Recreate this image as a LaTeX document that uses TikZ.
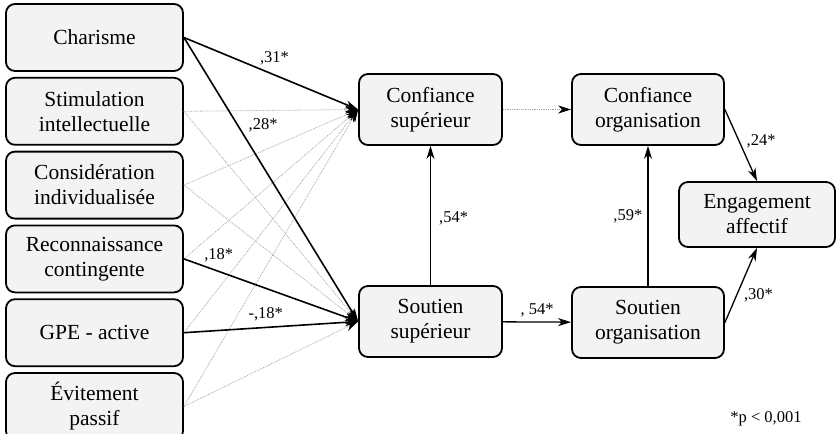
\documentclass[tikz,border=0pt]{standalone}
\usepackage{fontspec}
\setmainfont{Liberation Serif}
\usetikzlibrary{arrows.meta, positioning}
\definecolor{boxfill}{RGB}{242,243,242}

\begin{document}
\begin{tikzpicture}[x=1pt, y=-1pt]
	\tikzset{>={Stealth[length=13pt, width=8pt, inset=4pt]},
		every node/.style={font=\fontsize{21.5}{25}\selectfont},
		var/.style={draw, line width=1.8pt, fill=boxfill, rounded corners=9pt, align=center, minimum height=67pt},
		pred/.style={var, minimum width=177pt},
		sig/.style={->, line width=1.6pt},
		nonsig/.style={-{Stealth[length=13pt, width=8pt, inset=4pt, color=black]}, densely dotted, gray!70, line width=0.8pt},
		coef/.style={font=\fontsize{16.5}{18}\selectfont, inner sep=1pt}
	}
	\useasboundingbox (0,0) rectangle (836,434);

	% predictors
	\node[pred] (char) at (94.5,37.5) {Charisme};
	\node[pred, below=5pt of char] (stim) {Stimulation\\intellectuelle};
	\node[pred, below=5pt of stim] (cons) {Considération\\individualisée};
	\node[pred, below=5pt of cons] (reco) {Reconnaissance\\contingente};
	\node[pred, below=5pt of reco] (gpe) {GPE - active};
	\node[pred, below=5pt of gpe] (evit) {Évitement\\passif};

	% mediators and outcome
	\node[var, minimum width=143pt, minimum height=71pt] (csup) at (430.5,109.5) {Confiance\\supérieur};
	\node[var, minimum width=143pt, minimum height=71pt] (ssup) at (430.5,321.5) {Soutien\\supérieur};
	\node[var, minimum width=152pt, minimum height=71pt] (corg) at (648,109.5) {Confiance\\organisation};
	\node[var, minimum width=152pt, minimum height=71pt] (sorg) at (648,322.5) {Soutien\\organisation};
	\node[var, minimum width=156pt, minimum height=65pt] (eng) at (757,214.5) {Engagement\\affectif};

	% non significant paths
	\foreach \src in {stim, cons, reco, gpe, evit}
		\draw[nonsig] (\src.east) -- (csup.west);
	\foreach \src in {stim, cons, evit}
		\draw[nonsig] (\src.east) -- (ssup.west);
	\draw[nonsig] (csup) -- (corg);

	% significant paths
	\draw[sig] (char.east) -- node[coef, pos=.52, above=8pt] {,31*} (csup.west);
	\draw[sig] (char.east) -- node[coef, pos=.31, right=9pt] {,28*} (ssup.west);
	\draw[sig] (reco.east) -- node[coef, pos=.2, above=8pt] {,18*} (ssup.west);
	\draw[sig] (gpe.east) -- node[coef, pos=.47, above=5pt] {-,18*} (ssup.west);
	\draw[sig, line width=1.3pt] (ssup) -- node[coef, right=7pt, yshift=-3pt] {,54*} (csup);
	\draw[sig, line width=1.3pt] (ssup) -- node[coef, above=3pt] {, 54*} (sorg);
	\draw[sig, line width=1.3pt] (sorg) -- node[coef, left=4pt] {,59*} (corg);
	\draw[sig, line width=1.3pt] (corg.east) -- node[coef, pos=.41, right=7pt, yshift=-2pt] {,24*} (eng.north);
	\draw[sig, line width=1.3pt] (sorg.east) -- node[coef, pos=.39, right=5pt, yshift=-2pt] {,30*} (eng.south);

	\node[coef] (note) at (766,419) {*p < 0,001};
\end{tikzpicture}
\end{document}
